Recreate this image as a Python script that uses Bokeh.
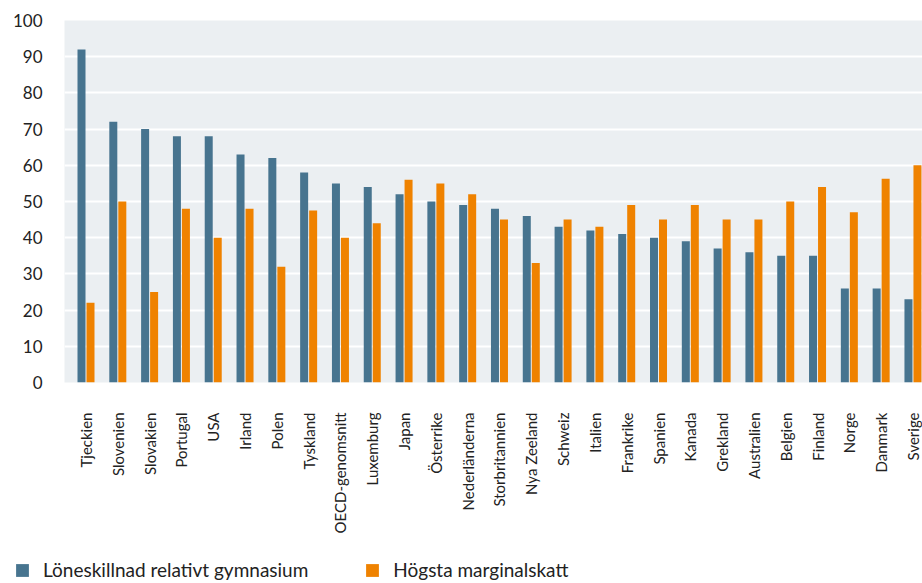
from bokeh.plotting import figure
from bokeh.layouts import column
from bokeh.models import (ColumnDataSource, Range1d, FixedTicker, Legend, LegendItem)
from bokeh.transform import dodge
from bokeh.embed import file_html
from bokeh.resources import INLINE
import math

countries = ["Tjeckien", "Slovenien", "Slovakien", "Portugal", "USA", "Irland", "Polen",
             "Tyskland", "OECD-genomsnitt", "Luxemburg", "Japan", "Österrike",
             "Nederländerna", "Storbritannien", "Nya Zeeland", "Schweiz", "Italien",
             "Frankrike", "Spanien", "Kanada", "Grekland", "Australien", "Belgien",
             "Finland", "Norge", "Danmark", "Sverige"]
loneskillnad = [92, 72, 70, 68, 68, 63, 62, 58, 55, 54, 52, 50, 49, 48, 46, 43, 42,
                41, 40, 39, 37, 36, 35, 35, 26, 26, 23]
marginalskatt = [22, 50, 25, 48, 40, 48, 32, 47.5, 40, 44, 56, 55, 52, 45, 33, 45, 43,
                 49, 45, 49, 45, 45, 50, 54, 47, 56.3, 60]
y_ticks = [0, 10, 20, 30, 40, 50, 60, 70, 80, 90, 100]
series_names = ["Löneskillnad relativt gymnasium", "Högsta marginalskatt"]

BLUE = "#47748f"
ORANGE = "#ef8200"
FONT = "Lato"
TEXT = "#222222"

idx = list(range(len(countries)))
src = ColumnDataSource(dict(x=idx, a=loneskillnad, b=marginalskatt))

p = figure(frame_width=858, frame_height=362, output_backend="svg", toolbar_location=None,
           x_range=Range1d(-0.676, len(countries) - 0.7), y_range=Range1d(0, 100),
           min_border_left=64, min_border_right=0, min_border_top=20,
           min_border_bottom=172, frame_align=False)
p.background_fill_color = "#ebeff2"
p.border_fill_color = "white"
p.outline_line_color = None

w = 0.2516
p.vbar(x=dodge("x", -0.1415), top="a", width=w, source=src,
       fill_color=BLUE, line_color=None)
p.vbar(x=dodge("x", 0.1415), top="b", width=w, source=src,
       fill_color=ORANGE, line_color=None)

p.xgrid.grid_line_color = None
p.ygrid.grid_line_color = "white"
p.ygrid.grid_line_width = 2
p.yaxis.ticker = FixedTicker(ticks=y_ticks)
p.xaxis.ticker = FixedTicker(ticks=idx)
p.xaxis.major_label_overrides = {i: c for i, c in enumerate(countries)}
p.xaxis.major_label_orientation = math.pi / 2

for ax in (p.xaxis[0], p.yaxis[0]):
    ax.axis_line_color = None
    ax.major_tick_line_color = None
    ax.minor_tick_line_color = None
    ax.major_label_text_font = FONT
    ax.major_label_text_color = TEXT

p.xaxis.major_label_text_font_size = "15px"
p.xaxis.major_label_standoff = 24
p.yaxis.major_label_text_font_size = "17px"
p.yaxis.major_label_standoff = 16

# legend strip underneath the chart; its swatches come from bars kept out of view
leg = figure(width=922, height=29, output_backend="svg", toolbar_location=None,
             x_range=Range1d(-100, -99), y_range=Range1d(0, 1),
             min_border=0, x_axis_type=None, y_axis_type=None, frame_align=False)
leg.outline_line_color = None
leg.grid.grid_line_color = None
s1 = leg.vbar(x=dodge("x", -0.1415), top="a", width=w, source=src,
              fill_color=BLUE, line_color=None)
s2 = leg.vbar(x=dodge("x", 0.1415), top="b", width=w, source=src,
              fill_color=ORANGE, line_color=None)
legend = Legend(items=[LegendItem(label=series_names[0], renderers=[s1]),
                       LegendItem(label=series_names[1], renderers=[s2])],
                orientation="horizontal", location=(14, 2),
                glyph_width=16, glyph_height=16, label_standoff=13, spacing=56,
                label_text_font=FONT, label_text_font_size="19px",
                label_text_color=TEXT, border_line_color=None,
                background_fill_alpha=0, padding=0, margin=0)
leg.add_layout(legend, "center")

layout = column(p, leg, spacing=0)
open("out.html", "w").write(file_html(layout, INLINE))
